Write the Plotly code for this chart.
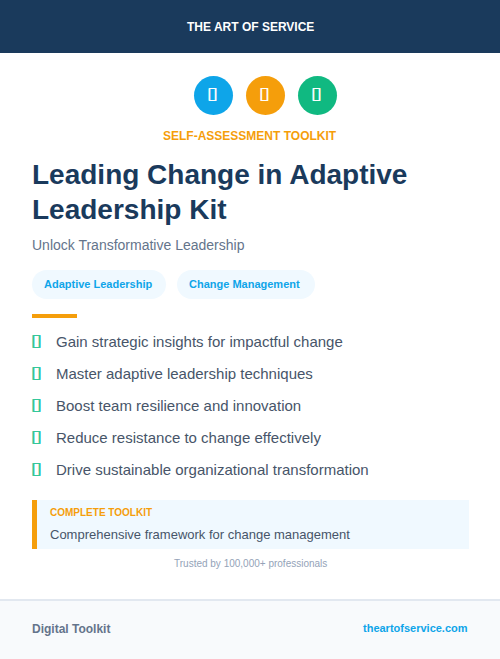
import plotly.graph_objects as go

# Colours
navy = '#1a3a5c'
blue = '#0ea5e9'
orange = '#f59e0b'
green = '#10b981'
pale = '#f0f9ff'
slate = '#64748b'
body = '#475569'

FONT = 'Liberation Sans'
ICON_FONT = 'DejaVu Sans'
ICON = '\uf0e7'

W, H = 500, 659

brand = 'THE ART OF SERVICE'
kicker = 'SELF-ASSESSMENT TOOLKIT'
title_lines = ['Leading Change in Adaptive', 'Leadership Kit']
subtitle = 'Unlock Transformative Leadership'
tags = ['Adaptive Leadership', 'Change Management']
tag_left = [32, 177]
tag_right = [166, 315]
benefits = [
    'Gain strategic insights for impactful change',
    'Master adaptive leadership techniques',
    'Boost team resilience and innovation',
    'Reduce resistance to change effectively',
    'Drive sustainable organizational transformation',
]
benefit_y = [341.5, 373.5, 405.5, 437.5, 469.5]
icon_x = [213.5, 265.5, 317.5]
icon_colors = [blue, orange, green]

fig = go.Figure()


def rect(x0, y0, x1, y1, color):
    fig.add_shape(type='rect', x0=x0, y0=y0, x1=x1, y1=y1, fillcolor=color,
                  line_width=0, layer='below')


def pill(x0, y0, x1, y1, color):
    # plotly arcs get distorted, so the round ends are beziers
    r = (y1 - y0) / 2
    k = r * 0.552
    m = y0 + r
    path = (f'M {x0 + r} {y0} L {x1 - r} {y0} '
            f'C {x1 - r + k} {y0} {x1} {m - k} {x1} {m} '
            f'C {x1} {m + k} {x1 - r + k} {y1} {x1 - r} {y1} '
            f'L {x0 + r} {y1} '
            f'C {x0 + r - k} {y1} {x0} {m + k} {x0} {m} '
            f'C {x0} {m - k} {x0 + r - k} {y0} {x0 + r} {y0} Z')
    fig.add_shape(type='path', path=path, fillcolor=color, line_width=0, layer='below')


def label(x, y, text, size, color, anchor='left', bold=False, family=FONT, shadow='none'):
    if bold:
        text = f'<b>{text}</b>'
    fig.add_annotation(x=x, y=y, text=text, showarrow=False, xanchor=anchor, yanchor='middle',
                       font=dict(family=family, size=size, color=color, shadow=shadow),
                       xref='x', yref='y', borderpad=0, borderwidth=0)


def icon(x, y, color, anchor):
    # the box glyph is thinner here than in the target, so thicken it with a shadow
    thick = f'0.4px 0 0 {color}, -0.4px 0 0 {color}, 0 0.4px 0 {color}, 0 -0.4px 0 {color}'
    label(x, y, ICON, 14, color, anchor, True, ICON_FONT, thick)


# Header band and footer
rect(0, 0, W, 53, navy)
rect(0, 600, W, H, '#f8fafc')
rect(0, 599, W, 601, '#e2e8f0')
label(250, 26.5, brand, 12, 'white', 'center', True)

# Icon row
for x, c in zip(icon_x, icon_colors):
    fig.add_shape(type='circle', x0=x - 19.5, y0=76, x1=x + 19.5, y1=115, fillcolor=c,
                  line_width=0, layer='below')
    icon(x - 1.5, 92.5, 'rgba(255,255,255,0.85)', 'center')

label(249.5, 135.5, kicker, 12, orange, 'center', True)

# Title block
label(32, 174, title_lines[0], 28, navy, bold=True)
label(32, 209, title_lines[1], 28, navy, bold=True)
label(32, 245, subtitle, 14, slate)

# Tags
for text, x0, x1 in zip(tags, tag_left, tag_right):
    pill(x0, 270, x1, 299, pale)
    label(x0 + 12, 283.5, text, 11, blue, 'left', True)

rect(32, 314, 77, 318, orange)

# Benefits list
for text, y in zip(benefits, benefit_y):
    icon(31.5, y - 1.5, '#34c79a', 'left')
    label(56, y, text, 15, body)

# Callout
rect(32, 500, 469, 549, pale)
rect(32, 500, 37, 549, orange)
label(50, 512, 'COMPLETE TOOLKIT', 10, orange, bold=True)
label(50, 534.5, 'Comprehensive framework for change management', 13, body)
label(250, 563, 'Trusted by 100,000+ professionals', 10, '#94a3b8', 'center')

# Footer text
label(32, 629, 'Digital Toolkit', 12, slate, bold=True)
label(468, 628, 'theartofservice.com', 11, blue, 'right', True)

fig.update_xaxes(visible=False, range=[0, W], fixedrange=True)
fig.update_yaxes(visible=False, range=[H, 0], fixedrange=True)
fig.update_layout(width=W, height=H, margin=dict(l=0, r=0, t=0, b=0), showlegend=False,
                  paper_bgcolor='white', plot_bgcolor='white')

fig.write_html('out.html', config={'displayModeBar': False},
               post_script="document.body.style.margin='0';")
